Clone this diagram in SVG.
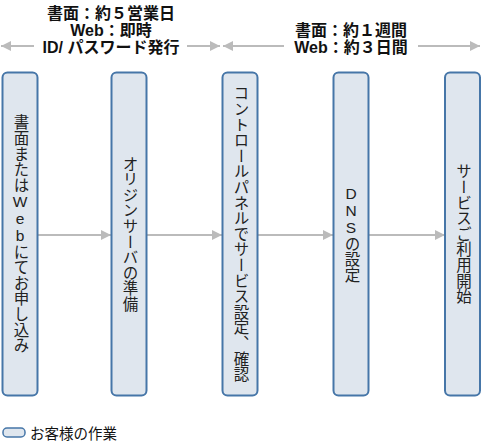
<svg xmlns="http://www.w3.org/2000/svg" width="481" height="441" viewBox="0 0 481 441">
<defs>
<style>
.box{fill:#dfe6ee;stroke:#4676a8;stroke-width:2}
.vt{font-family:"Liberation Sans","Noto Sans CJK JP",sans-serif;font-size:15.5px;fill:#222;writing-mode:vertical-rl;text-orientation:upright;text-anchor:middle;letter-spacing:0.1px}
.hd{font-family:"Liberation Sans","Noto Sans CJK JP",sans-serif;font-size:16px;font-weight:bold;fill:#111;text-anchor:middle}
.lg{font-family:"Liberation Sans","Noto Sans CJK JP",sans-serif;font-size:14.5px;fill:#111}
.ln{stroke:#bbbbbb;stroke-width:2;fill:none}
</style>
<marker id="ah" viewBox="0 0 10 10" refX="10" refY="5" markerWidth="10" markerHeight="10" markerUnits="userSpaceOnUse" orient="auto">
<path d="M0,0 L10,5 L0,10 Z" fill="#bbbbbb"/>
</marker>
</defs>
<g id="connectors">
<line class="ln" x1="37" y1="235" x2="111" y2="235" marker-end="url(#ah)"/>
<line class="ln" x1="147" y1="235" x2="222" y2="235" marker-end="url(#ah)"/>
<line class="ln" x1="258" y1="235" x2="333" y2="235" marker-end="url(#ah)"/>
<line class="ln" x1="369" y1="235" x2="445" y2="235" marker-end="url(#ah)"/>
<line class="ln" x1="34" y1="46" x2="1" y2="46" marker-end="url(#ah)"/>
<line class="ln" x1="187" y1="46" x2="220" y2="46" marker-end="url(#ah)"/>
<line class="ln" x1="284" y1="46" x2="223" y2="46" marker-end="url(#ah)"/>
<line class="ln" x1="418" y1="46" x2="480" y2="46" marker-end="url(#ah)"/>
</g>
<g id="period1">
<text class="hd" x="111" y="19">書面：約５営業日</text>
<text class="hd" x="111" y="36">Web：即時</text>
<text class="hd" x="111" y="53">ID/ パスワード発行</text>
</g>
<g id="period2">
<text class="hd" x="351" y="36">書面：約１週間</text>
<text class="hd" x="351" y="53">Web：約３日間</text>
</g>
<g id="step1">
<rect class="box" x="2.5" y="72.5" width="35" height="323" rx="5"/>
<text class="vt" x="20" y="234">書面またはWebにてお申し込み</text>
</g>
<g id="step2">
<rect class="box" x="111.5" y="72.5" width="35" height="323" rx="5"/>
<text class="vt" x="129" y="234">オリジンサーバの準備</text>
</g>
<g id="step3">
<rect class="box" x="222.5" y="72.5" width="35" height="323" rx="5"/>
<text class="vt" x="240" y="234">コントロールパネルでサービス設定、確認</text>
</g>
<g id="step4">
<rect class="box" x="333.5" y="72.5" width="35" height="323" rx="5"/>
<text class="vt" x="351" y="234">DNSの設定</text>
</g>
<g id="step5">
<rect class="box" x="445" y="72.5" width="35" height="323" rx="5"/>
<text class="vt" x="462.5" y="234">サービスご利用開始</text>
</g>
<g id="legend">
<rect class="box" x="3" y="428" width="22" height="9" rx="4" style="stroke-width:1.5"/>
<text class="lg" x="30" y="439">お客様の作業</text>
</g>
</svg>
